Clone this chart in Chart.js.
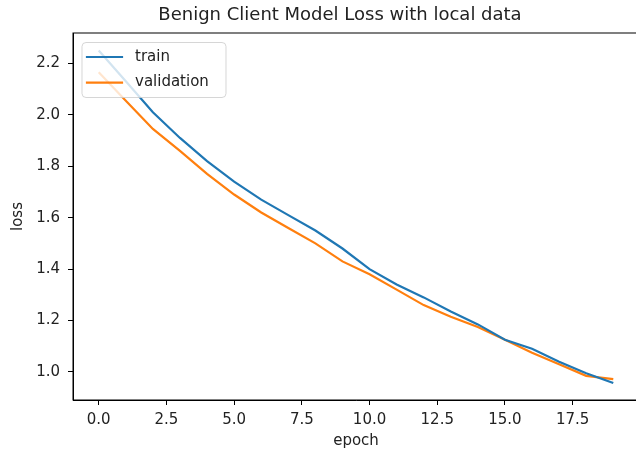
<!DOCTYPE html>
<html>
<head>
<meta charset="utf-8">
<script src="https://cdn.jsdelivr.net/npm/chart.js@4.4.1/dist/chart.umd.min.js"></script>
<style>
    html, body { margin: 0; padding: 0; background: #fff; overflow: hidden; }
    #wrap { width: 640px; height: 457px; }
</style>
</head>
<body>
<div id="wrap"><canvas id="lossChart" width="640" height="457"></canvas></div>
<script>
// Loss history per epoch
const epochs = [0, 1, 2, 3, 4, 5, 6, 7, 8, 9, 10, 11, 12, 13, 14, 15, 16, 17, 18, 19];
const trainLoss = [2.25, 2.13, 2.01, 1.91, 1.82, 1.74, 1.67, 1.61, 1.55, 1.48,
                   1.40, 1.34, 1.29, 1.235, 1.185, 1.125, 1.09, 1.04, 0.995, 0.957];
const valLoss = [2.165, 2.055, 1.945, 1.86, 1.77, 1.69, 1.62, 1.56, 1.50, 1.43,
                 1.38, 1.32, 1.26, 1.215, 1.175, 1.125, 1.075, 1.03, 0.985, 0.972];
const xTicks = [0, 2.5, 5, 7.5, 10, 12.5, 15, 17.5];
const yTicks = [1.0, 1.2, 1.4, 1.6, 1.8, 2.0, 2.2];

const FONT = 'DejaVu Sans';
const TEXT = '#222';

const toPoints = (ys) => epochs.map((e, i) => ({ x: e, y: ys[i] }));

// Full box around the plot area (top and right spines)
const frame = {
    id: 'frame',
    afterDatasetsDraw(chart) {
        const { ctx, chartArea: a } = chart;
        ctx.save();
        ctx.strokeStyle = '#000';
        ctx.lineWidth = 1;
        ctx.strokeRect(a.left, a.top, a.right - a.left, a.bottom - a.top);
        ctx.restore();
    }
};

// Legend box in the upper-left corner of the plot
const boxLegend = {
    id: 'boxLegend',
    afterDatasetsDraw(chart) {
        const { ctx } = chart;
        const x = 82, y = 42.5, w = 144, h = 55, r = 4;
        ctx.save();
        ctx.beginPath();
        ctx.roundRect(x, y, w, h, r);
        ctx.fillStyle = 'rgba(255,255,255,0.8)';
        ctx.fill();
        ctx.strokeStyle = 'rgba(204,204,204,0.8)';
        ctx.lineWidth = 1;
        ctx.stroke();
        ctx.font = `15px "${FONT}"`;
        ctx.textBaseline = 'middle';
        chart.data.datasets.forEach((ds, i) => {
            const ly = 57 + i * 25.6;
            ctx.beginPath();
            ctx.moveTo(87, ly);
            ctx.lineTo(122, ly);
            ctx.strokeStyle = ds.borderColor;
            ctx.lineWidth = 2.2;
            ctx.lineCap = 'square';
            ctx.stroke();
            ctx.fillStyle = TEXT;
            ctx.fillText(ds.label, 135, ly);
        });
        ctx.restore();
    }
};

// Title above the axes
const topTitle = {
    id: 'topTitle',
    afterDraw(chart) {
        const { ctx } = chart;
        ctx.save();
        ctx.font = `18px "${FONT}"`;
        ctx.fillStyle = TEXT;
        ctx.textAlign = 'center';
        ctx.textBaseline = 'middle';
        ctx.fillText('Benign Client Model Loss with local data', 340, 15);
        ctx.restore();
    }
};

const ctx = document.getElementById('lossChart').getContext('2d');
new Chart(ctx, {
    type: 'line',
    data: {
        datasets: [
            { label: 'train', data: toPoints(trainLoss), borderColor: '#1f77b4', borderWidth: 2.2, pointRadius: 0, tension: 0 },
            { label: 'validation', data: toPoints(valLoss), borderColor: '#ff7f0e', borderWidth: 2.2, pointRadius: 0, tension: 0 }
        ]
    },
    options: {
        responsive: false,
        animation: false,
        events: [],
        layout: { padding: { top: 33, right: 1, left: 0, bottom: 0 } },
        plugins: {
            legend: { display: false },
            title: { display: false },
            tooltip: { enabled: false }
        },
        scales: {
            x: {
                type: 'linear',
                min: -0.95,
                max: 19.95,
                afterBuildTicks: (scale) => { scale.ticks = xTicks.map(v => ({ value: v })); },
                afterFit: (scale) => { scale.height = 57; },
                ticks: {
                    callback: (v) => v.toFixed(1),
                    font: { family: FONT, size: 15 },
                    color: TEXT,
                    padding: 6,
                    maxRotation: 0,
                    autoSkip: false
                },
                grid: { display: true, drawOnChartArea: false, drawTicks: true, tickLength: 5, tickColor: '#000', tickWidth: 1 },
                border: { display: true, color: '#000', width: 1 },
                title: { display: true, text: 'epoch', font: { family: FONT, size: 15 }, color: TEXT, padding: { top: 0, bottom: 7 } }
            },
            y: {
                type: 'linear',
                min: 0.891,
                max: 2.318,
                afterBuildTicks: (scale) => { scale.ticks = yTicks.map(v => ({ value: v })); },
                afterFit: (scale) => { scale.width = 73; },
                ticks: {
                    callback: (v) => v.toFixed(1),
                    font: { family: FONT, size: 15 },
                    color: TEXT,
                    padding: 8,
                    autoSkip: false
                },
                grid: { display: true, drawOnChartArea: false, drawTicks: true, tickLength: 5, tickColor: '#000', tickWidth: 1 },
                border: { display: true, color: '#000', width: 1 },
                title: { display: true, text: 'loss', font: { family: FONT, size: 15 }, color: TEXT, padding: { top: 9, bottom: 0 } }
            }
        }
    },
    plugins: [frame, boxLegend, topTitle]
});
</script>
</body>
</html>
